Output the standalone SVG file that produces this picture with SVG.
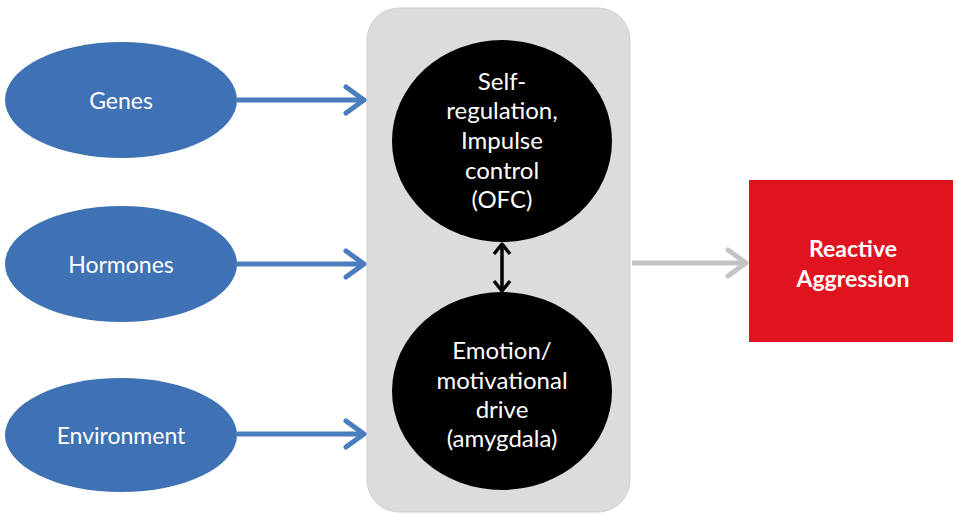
<svg xmlns="http://www.w3.org/2000/svg" width="953" height="517" viewBox="0 0 953 517">
<defs>
<style>
.oval{fill:#3f72b5;}
.lbl{font-family:Lato,"Open Sans","Liberation Sans",sans-serif;fill:#ffffff;text-anchor:middle;}
.blue{stroke:#4a7dbd;stroke-width:5;fill:none;}
.chev{stroke-width:5;fill:none;stroke-linecap:round;stroke-linejoin:round;}
</style>
</defs>
<rect width="953" height="517" fill="#ffffff"/>
<g id="context">
<rect x="367" y="8" width="263" height="504" rx="32" fill="#dcdcdc" stroke="#cfcfcf" stroke-width="1"/>
</g>
<g id="genes">
<ellipse class="oval" cx="121" cy="100" rx="116" ry="58"/>
<text class="lbl" x="121" y="109" font-size="23">Genes</text>
</g>
<g id="hormones">
<ellipse class="oval" cx="121" cy="264" rx="116" ry="58"/>
<text class="lbl" x="121" y="273" font-size="23">Hormones</text>
</g>
<g id="environment">
<ellipse class="oval" cx="121" cy="435" rx="116" ry="57"/>
<text class="lbl" x="121" y="444" font-size="23">Environment</text>
</g>
<g id="ofc">
<ellipse cx="502" cy="141" rx="110" ry="101" fill="#000000"/>
<text class="lbl" font-size="24"><tspan x="502" y="90">Self-</tspan><tspan x="502" y="119">regulation,</tspan><tspan x="502" y="149">Impulse</tspan><tspan x="502" y="179">control</tspan><tspan x="502" y="208">(OFC)</tspan></text>
</g>
<g id="amygdala">
<ellipse cx="502" cy="391" rx="110" ry="99" fill="#000000"/>
<text class="lbl" font-size="24"><tspan x="502" y="359">Emotion/</tspan><tspan x="502" y="389">motivational</tspan><tspan x="502" y="418">drive</tspan><tspan x="502" y="447">(amygdala)</tspan></text>
</g>
<g id="reactive">
<rect x="749" y="180" width="210" height="162" fill="#df141e"/>
<text class="lbl" font-size="23" font-weight="bold"><tspan x="853" y="257">Reactive</tspan><tspan x="853" y="287">Aggression</tspan></text>
</g>
<g id="connectors">
<line class="blue" x1="237" y1="100" x2="364" y2="100"/>
<polyline class="chev" stroke="#4a7dbd" points="346,87 364,100 346,113"/>
<line class="blue" x1="237" y1="264" x2="364" y2="264"/>
<polyline class="chev" stroke="#4a7dbd" points="346,251 364,264 346,277"/>
<line class="blue" x1="237" y1="434" x2="364" y2="434"/>
<polyline class="chev" stroke="#4a7dbd" points="346,421 364,434 346,447"/>
<line x1="632" y1="263" x2="746" y2="263" stroke="#c3c3c3" stroke-width="5"/>
<polyline class="chev" stroke="#c3c3c3" points="728,250 746,263 728,276"/>
<line x1="502" y1="245" x2="502" y2="290" stroke="#000" stroke-width="3.5"/>
<polyline points="494,254 502,244 510,254" fill="none" stroke="#000" stroke-width="3.5" stroke-linejoin="round"/>
<polyline points="494,281 502,291 510,281" fill="none" stroke="#000" stroke-width="3.5" stroke-linejoin="round"/>
</g>
</svg>
